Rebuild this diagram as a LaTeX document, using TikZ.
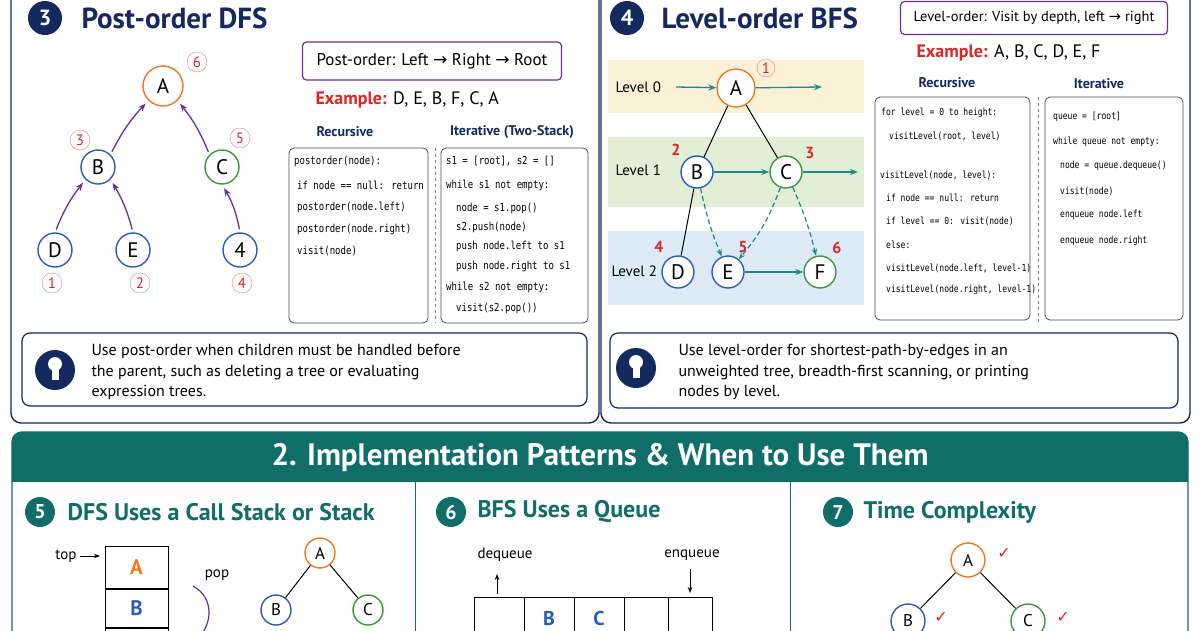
\documentclass[tikz,border=0pt]{standalone}
\usepackage{fontspec}
\setmainfont{PT Sans}
\newfontfamily\codefont[FakeStretch=0.82]{DejaVu Sans Mono}
\newfontfamily\symfont{DejaVu Sans}
\usetikzlibrary{arrows.meta}
\definecolor{navy}{HTML}{14295E}
\definecolor{orng}{HTML}{F07820}
\definecolor{blu}{HTML}{2A5CC0}
\definecolor{grn}{HTML}{3A9A3A}
\definecolor{purp}{HTML}{6A2CA0}
\definecolor{rd}{HTML}{E02424}
\definecolor{teal}{HTML}{0F6E68}
\definecolor{arr}{HTML}{1A8A8A}
\definecolor{yel}{HTML}{FBF1D6}
\definecolor{grnb}{HTML}{E2EFD6}
\definecolor{blub}{HTML}{DDEBF7}
\begin{document}
\begin{tikzpicture}[x=1pt,y=-1pt,
  tn/.style={circle,draw,line width=1.4pt,minimum size=34pt,inner sep=0pt,font=\fontsize{21}{21}\selectfont,fill=white},
  sn/.style={tn,minimum size=30pt,font=\fontsize{17}{17}\selectfont},
  num/.style={circle,draw=rd!60,text=rd,minimum size=20pt,inner sep=0pt,font=\fontsize{15}{15}\selectfont},
  rnum/.style={text=rd,font=\bfseries\fontsize{16}{16}\selectfont},
  code/.style={anchor=west,font=\codefont\fontsize{11}{11}\selectfont,inner sep=0pt},
  cbox/.style={draw=black!70,rounded corners=5pt,line width=0.8pt},
  badge/.style={circle,fill=navy,text=white,minimum size=34pt,inner sep=0pt,font=\bfseries\fontsize{22}{22}\selectfont},
  tbadge/.style={circle,fill=teal,text=white,minimum size=30pt,inner sep=0pt,font=\bfseries\fontsize{20}{20}\selectfont},
  title/.style={anchor=west,text=navy,font=\bfseries\fontsize{29}{29}\selectfont},
  ttitle/.style={anchor=west,text=teal,font=\bfseries\fontsize{24}{24}\selectfont},
  body/.style={anchor=west,font=\fontsize{15}{15}\selectfont},
  tipt/.style={anchor=west,align=left,font=\fontsize{16}{20.5}\selectfont},
  sub/.style={text=navy,font=\bfseries\fontsize{14}{14}\selectfont},
  up/.style={-{Stealth[length=8pt]},purp,line width=1.3pt,shorten >=4pt,shorten <=3pt},
  ta/.style={-{Stealth[length=8pt]},arr,line width=1.3pt},
  tda/.style={-{Stealth[length=7pt]},arr,line width=1.2pt,dash pattern=on 5pt off 3pt},
  tip/.style={draw=navy,rounded corners=8pt,line width=1.2pt},
  bulb/.style={circle,fill=navy,minimum size=40pt,inner sep=0pt}]
\useasboundingbox (0,0) rectangle (1200,630);
\fill[white] (0,0) rectangle (1200,630);
% ===== panel 3 =====
\draw[navy,line width=1.4pt,rounded corners=10pt] (11,-20) rectangle (599,423);
\draw[navy,line width=1.4pt,rounded corners=10pt] (601,-20) rectangle (1190,423);
\node[badge] (b3) at (45,18) {3};
\node[title] (t3) at (78,18) {Post-order DFS};
\node[tn,draw=orng,minimum size=40pt] (A) at (163,86) {A};
\node[tn,draw=blu] (B) at (98,167) {B};
\node[tn,draw=grn] (C) at (222,167) {C};
\node[tn,draw=blu] (D) at (55,250) {D};
\node[tn,draw=blu] (E) at (133,250) {E};
\node[tn,draw=blu] (F4) at (240,250) {4};
\node[num] (n6) at (197,62) {6};
\node[num] (n3) at (80,140) {3};
\node[num] (n5) at (240,138) {5};
\node[num] (n1) at (52,283) {1};
\node[num] (n2) at (140,283) {2};
\node[num] (n4) at (242,283) {4};
\draw[up] (B.north east) to[bend left=8] (A.south west);
\draw[up] (C.north west) to[bend right=8] (A.south east);
\draw[up] (D.north) to[bend left=8] (B.south west);
\draw[up] (E.north) to[bend right=8] (B.south east);
\draw[up] (F4.north) to[bend right=10] (C.south);
\node[draw=purp,line width=1.2pt,rounded corners=4pt,minimum width=259pt,minimum height=38pt,font=\fontsize{17}{17}\selectfont] (po) at (432,61) {Post-order: Left {\symfont→} Right {\symfont→} Root};
\node[anchor=west,font=\fontsize{18}{18}\selectfont] (ex3) at (312,100) {\textcolor{rd}{\bfseries Example:} D, E, B, F, C, A};
\node[sub] (r3) at (345,132) {Recursive};
\node[sub] (i3) at (512,132) {Iterative (Two-Stack)};
\draw[cbox] (289,148) rectangle (428,323);
\draw[cbox] (441,148) rectangle (588,323);
\draw[black!50,dashed] (435,148) -- (435,323);
\node[code] at (294,161) {postorder(node):};
\node[code] at (297,185) {if node == null: return};
\node[code] at (297,207) {postorder(node.left)};
\node[code] at (297,229) {postorder(node.right)};
\node[code] at (297,251) {visit(node)};
\node[code] at (446,161) {s1 = [root], s2 = []};
\node[code] at (446,185) {while s1 not empty:};
\node[code] at (456,208) {node = s1.pop()};
\node[code] at (456,227) {s2.push(node)};
\node[code] at (456,246) {push node.left to s1};
\node[code] at (456,266) {push node.right to s1};
\node[code] at (446,287) {while s2 not empty:};
\node[code] at (456,308) {visit(s2.pop())};
\draw[tip] (22,333) rectangle (587,406);
\node[bulb] (bl3) at (55,370) {};
\fill[white] (55,364) circle (7pt); \fill[white] (51.5,369) rectangle (58.5,380);
\node[tipt] (tx3) at (88,372) {Use post-order when children must be handled before\\the parent, such as deleting a tree or evaluating\\expression trees.};
% ===== panel 4 =====
\node[badge] (b4) at (627,18) {4};
\node[title] (t4) at (658,18) {Level-order BFS};
\node[draw=purp,line width=1.2pt,rounded corners=4pt,minimum width=267pt,minimum height=33pt,font=\fontsize{14.5}{14.5}\selectfont] (lo) at (1034,18) {Level-order: Visit by depth, left {\symfont→} right};
\node[anchor=west,font=\fontsize{18}{18}\selectfont] (ex4) at (913,53) {\textcolor{rd}{\bfseries Example:} A, B, C, D, E, F};
\fill[yel] (608,60) rectangle (864,113);
\fill[grnb] (608,137) rectangle (864,207);
\fill[blub] (608,231) rectangle (864,305);
\node[body] (L0) at (612,87) {Level 0};
\node[body] (L1) at (612,170) {Level 1};
\node[body] (L2) at (608,271) {Level 2};
\node[tn,draw=orng,minimum size=38pt] (a) at (736,88) {A};
\node[tn,draw=blu,minimum size=32pt] (b) at (697,172) {B};
\node[tn,draw=grn,minimum size=32pt] (c) at (786,172) {C};
\node[tn,draw=blu,minimum size=32pt] (d) at (678,272) {D};
\node[tn,draw=blu,minimum size=32pt] (e) at (728,272) {E};
\node[tn,draw=grn,minimum size=32pt] (f) at (820,272) {F};
\coordinate (a0) at (676,87); \coordinate (a1) at (822,87); \coordinate (c1) at (858,172);
\draw[ta] (a0) -- (a);
\draw[ta] (a) -- (a1);
\draw[ta] (b) -- (c);
\draw[ta] (c) -- (c1);
\draw[ta] (e) -- (f);
\draw[line width=1pt] (a) -- (b); \draw[line width=1pt] (a) -- (c); \draw[line width=1pt] (b) -- (d);
\draw[tda] (b) to[bend right=5] (e);
\draw[tda] (c) to[bend left=10] (e);
\draw[tda] (c) to[bend left=5] (f);
\node[num,minimum size=18pt] (m1) at (766,68) {1};
\node[rnum] (m2) at (676,150) {2};
\node[rnum] (m3) at (810,153) {3};
\node[rnum] (m4) at (659,247) {4};
\node[rnum] (m5) at (743,247) {5};
\node[rnum] (m6) at (837,248) {6};
\node[sub] (r4) at (947,83) {Recursive};
\node[sub] (i4) at (1099,84) {Iterative};
\draw[cbox] (875,97) rectangle (1030,320);
\draw[cbox] (1045,97) rectangle (1183,320);
\draw[black!50,dashed] (1038,97) -- (1038,322);
\begin{scope}[code/.append style={font=\codefont\fontsize{9.8}{9.8}\selectfont}]
\node[code] at (881,113) {for level = 0 to height:};
\node[code] at (889,136) {visitLevel(root, level)};
\node[code] at (880,175) {visitLevel(node, level):};
\node[code] at (886,198) {if node == null: return};
\node[code] at (886,221) {if level == 0: visit(node)};
\node[code] at (886,245) {else:};
\node[code] at (886,268) {visitLevel(node.left, level-1)};
\node[code] at (886,290) {visitLevel(node.right, level-1)};
\node[code] at (1053,117) {queue = [root]};
\node[code] at (1053,142) {while queue not empty:};
\node[code] at (1060,166) {node = queue.dequeue()};
\node[code] at (1060,191) {visit(node)};
\node[code] at (1060,215) {enqueue node.left};
\node[code] at (1060,241) {enqueue node.right};
\end{scope}
\draw[tip] (610,333) rectangle (1178,408);
\node[bulb] (bl4) at (636,368) {};
\fill[white] (636,362) circle (7pt); \fill[white] (632.5,367) rectangle (639.5,378);
\node[tipt] (tx4) at (675,372) {Use level-order for shortest-path-by-edges in an\\unweighted tree, breadth-first scanning, or printing\\nodes by level.};
% ===== section 2 =====
\draw[teal,line width=1.4pt,rounded corners=10pt,fill=white] (12,432) rectangle (1188,650);
\fill[teal,rounded corners=10pt] (12,432) rectangle (1188,482);
\fill[teal] (12,470) rectangle (1188,482);
\node[text=white,font=\bfseries\fontsize{31}{31}\selectfont] (h2) at (600,458) {2. Implementation Patterns \& When to Use Them};
\draw[teal,line width=1pt] (415,482) -- (415,640);
\draw[teal,line width=1pt] (790,482) -- (790,640);
\node[tbadge] (b5) at (40,512) {5};
\node[ttitle] (t5) at (64,512) {DFS Uses a Call Stack or Stack};
\node[tbadge] (b6) at (451,512) {6};
\node[ttitle] (t6) at (474,512) {BFS Uses a Queue};
\node[tbadge] (b7) at (838,512) {7};
\node[ttitle] (t7) at (860,512) {Time Complexity};
% stack
\node[anchor=east,font=\fontsize{15}{15}\selectfont] (top) at (80,556) {top};
\coordinate (tpe) at (100,556);
\draw[-{Stealth[length=6pt]},line width=1pt] (top) -- (tpe);
\node[draw,line width=1pt,minimum width=63pt,minimum height=42pt,text=orng,font=\bfseries\fontsize{21}{21}\selectfont] (sA) at (136.5,567) {A};
\node[draw,line width=1pt,minimum width=63pt,minimum height=38pt,text=blu,font=\bfseries\fontsize{21}{21}\selectfont,anchor=north] (sB) at (sA.south) {B};
\node[draw,line width=1pt,minimum width=63pt,minimum height=38pt,anchor=north] (sC) at (sB.south) {};
\node[font=\fontsize{15}{15}\selectfont] (pop) at (217,575) {pop};
\draw[purp,line width=1.2pt] (193,586) .. controls (215,598) and (212,625) .. (198,638);
\node[sn,draw=orng] (A5) at (320,553) {A};
\node[sn,draw=blu] (B5) at (276,610) {B};
\node[sn,draw=grn] (C5) at (368,610) {C};
\draw[line width=1pt] (A5) -- (B5); \draw[line width=1pt] (A5) -- (C5);
% queue
\node[font=\fontsize{15}{15}\selectfont] (dq) at (505,555) {dequeue};
\node[font=\fontsize{15}{15}\selectfont] (enq) at (692,555) {enqueue};
\coordinate (dq1) at (497,594); \coordinate (dq2) at (497,574);
\coordinate (eq1) at (690,569); \coordinate (eq2) at (690,593);
\draw[-{Stealth[length=6pt]},line width=1pt] (dq1) -- (dq2);
\draw[-{Stealth[length=6pt]},line width=1pt] (eq1) -- (eq2);
\foreach \xa/\xb/\n in {474/524/q1,524/574/q2,574/624/q3,624/668/q4,668/712/q5}{
  \node[draw,line width=1pt,minimum width={\xb-\xa},minimum height=50pt,anchor=north west] (\n) at (\xa,597) {};
}
\node[text=blu,font=\bfseries\fontsize{20}{20}\selectfont,inner sep=0pt] (qb) at (549,618) {B};
\node[text=blu,font=\bfseries\fontsize{20}{20}\selectfont,inner sep=0pt] (qc) at (599,618) {C};
% complexity
\node[sn,draw=orng,minimum size=34pt] (A7) at (968,560) {A};
\node[sn,draw=blu,minimum size=34pt] (B7) at (908,621) {B};
\node[sn,draw=grn,minimum size=34pt] (C7) at (1028,621) {C};
\draw[line width=1pt] (A7) -- (B7); \draw[line width=1pt] (A7) -- (C7);
\node[text=rd,font=\symfont\fontsize{16}{16}\selectfont] (k1) at (1004,553) {✓};
\node[text=rd,font=\symfont\fontsize{16}{16}\selectfont] (k2) at (941,617) {✓};
\node[text=rd,font=\symfont\fontsize{16}{16}\selectfont] (k3) at (1063,617) {✓};
\end{tikzpicture}
\end{document}
